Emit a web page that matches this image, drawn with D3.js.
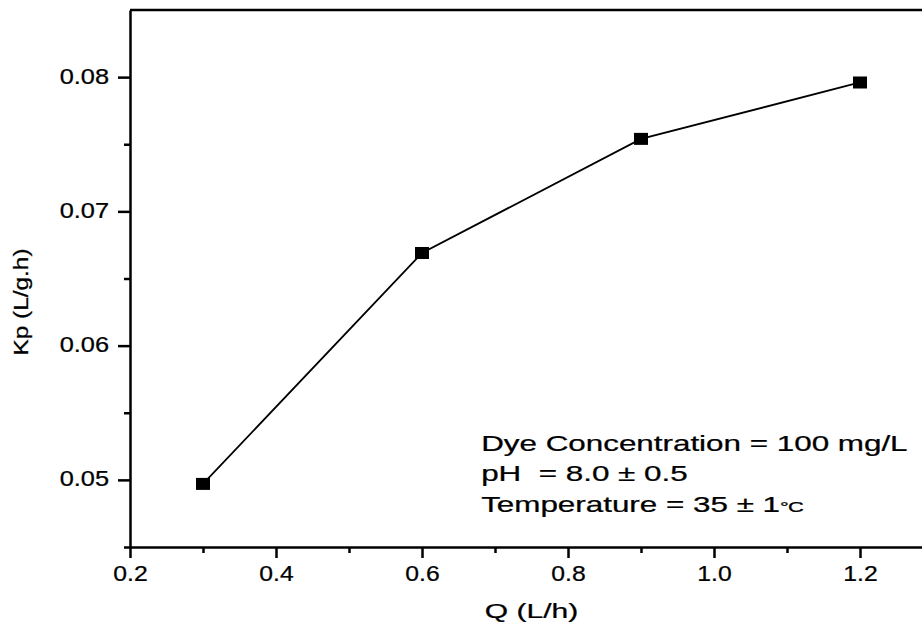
<!DOCTYPE html>
<html>
<head>
<meta charset="utf-8">
<script src="https://cdn.jsdelivr.net/npm/d3@7"></script>
<style>
  html, body { margin: 0; padding: 0; background: #fff; overflow: hidden; }
  svg { display: block; }
  text { font-family: "Liberation Sans", Arial, sans-serif; fill: #000; stroke: #000; stroke-width: 0.25; white-space: pre; }
</style>
</head>
<body>
<svg id="chart" width="922" height="633"></svg>
<script>
// ---- data ----
const flowRates = [0.3, 0.6, 0.9, 1.2];           // Q (L/h)
const kpValues  = [0.0497, 0.0669, 0.0754, 0.0796]; // Kp (L/g.h)
const xMajorTicks = [0.2, 0.4, 0.6, 0.8, 1.0, 1.2];
const xMinorTicks = [0.3, 0.5, 0.7, 0.9, 1.1];
const yMajorTicks = [0.05, 0.06, 0.07, 0.08];
const yMinorTicks = [0.045, 0.055, 0.065, 0.075];
const xTitle = "Q (L/h)";
const yTitle = "Kp (L/g.h)";
const noteLines = ["Dye Concentration = 100 mg/L", "pH \u00A0= 8.0 \u00B1 0.5", "Temperature = 35 \u00B1 1"];

const svg = d3.select("#chart");
const mLeft = 130, mTop = 10, mBottom = 547, mRight = 933;

const x = d3.scaleLinear().domain([0.2, 1.3]).range([mLeft, mRight]);
const y = d3.scaleLinear().domain([0.045, 0.085]).range([mBottom, mTop]);

const axisW = 2.5;
// frame top line (right side is off-canvas)
svg.append("line").attr("x1", mLeft).attr("x2", mRight).attr("y1", mTop).attr("y2", mTop)
  .attr("stroke", "#000").attr("stroke-width", axisW);

function styleAxis(g) {
  g.select(".domain").attr("stroke", "#000").attr("stroke-width", axisW);
  g.selectAll(".tick line").attr("stroke", "#000").attr("stroke-width", axisW);
}

// x axis
const gx = svg.append("g").attr("transform", `translate(0,${mBottom})`)
  .call(d3.axisBottom(x).tickValues(xMajorTicks).tickSize(11).tickSizeOuter(0).tickPadding(8)
        .tickFormat(d3.format(".1f")));
styleAxis(gx);
gx.selectAll(".tick text").attr("font-size", 21.5).attr("fill", "#000")
  .attr("font-family", "Liberation Sans, Arial, sans-serif")
  .attr("transform", "scale(1.15,1)");
const gxm = svg.append("g").attr("transform", `translate(0,${mBottom})`)
  .call(d3.axisBottom(x).tickValues(xMinorTicks).tickSize(6).tickFormat(""));
styleAxis(gxm);
gxm.select(".domain").remove();

// y axis
const gy = svg.append("g").attr("transform", `translate(${mLeft},0)`)
  .call(d3.axisLeft(y).tickValues(yMajorTicks).tickSize(12).tickSizeOuter(0).tickPadding(9)
        .tickFormat(d3.format(".2f")));
styleAxis(gy);
gy.selectAll(".tick text").attr("font-size", 21.5).attr("fill", "#000")
  .attr("font-family", "Liberation Sans, Arial, sans-serif")
  .attr("dy", "0.28em")
  .each(function() {
    const t = d3.select(this);
    const xr = +t.attr("x");
    t.attr("transform", `translate(${xr},0) scale(1.18,1) translate(${-xr},0)`);
  });
const gym = svg.append("g").attr("transform", `translate(${mLeft},0)`)
  .call(d3.axisLeft(y).tickValues(yMinorTicks).tickSize(6).tickFormat(""));
styleAxis(gym);
gym.select(".domain").remove();

// line + markers
const pts = flowRates.map((q, i) => [q, kpValues[i]]);
svg.append("path").datum(pts)
  .attr("fill", "none").attr("stroke", "#000").attr("stroke-width", 1.8)
  .attr("d", d3.line().x(d => x(d[0])).y(d => y(d[1])));
svg.selectAll("rect.pt").data(pts).join("rect").attr("class", "pt")
  .attr("x", d => x(d[0]) - 7).attr("y", d => y(d[1]) - 6)
  .attr("width", 14).attr("height", 12).attr("fill", "#000");

// axis titles
svg.append("text").attr("text-anchor", "middle").attr("font-size", 20)
  .attr("transform", `translate(${(mLeft + mRight) / 2},618) scale(1.5,1)`)
  .text(xTitle);
svg.append("text").attr("text-anchor", "middle").attr("font-size", 19.5)
  .attr("transform", `translate(28,302) rotate(-90) scale(1.25,1)`)
  .text(yTitle);

// annotation
const note = svg.append("g").attr("transform", `translate(${x(0.681)},0) scale(1.46,1)`);
note.selectAll("text").data(noteLines).join("text")
  .attr("x", 0).attr("y", (d, i) => 451 + i * 30.5)
  .attr("font-size", 21.5)
  .each(function(d, i) {
    const t = d3.select(this);
    t.append("tspan").text(d);
    if (i === 2) t.append("tspan").attr("font-size", 15).attr("letter-spacing", -0.5).text("\u00B0C");
  });
</script>
</body>
</html>
